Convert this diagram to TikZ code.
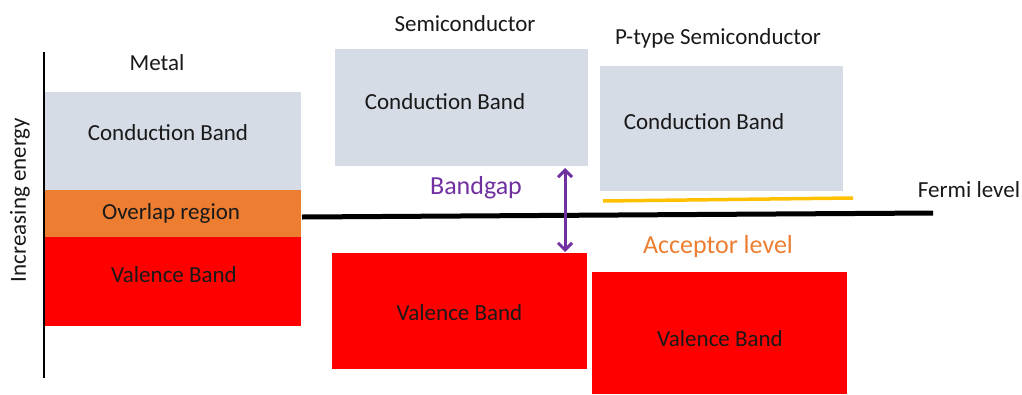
\documentclass[tikz,border=0pt]{standalone}
\usepackage{fontspec}
\setmainfont{Carlito}
\usetikzlibrary{arrows.meta}
\definecolor{cbgray}{HTML}{D6DCE5}
\definecolor{ovorange}{HTML}{ED7D31}
\definecolor{vbred}{HTML}{FF0000}
\definecolor{gappurple}{HTML}{7030A0}
\definecolor{acyellow}{HTML}{FFC000}
\tikzset{
  bandbox/.style={rectangle, inner sep=0pt, outer sep=0pt, draw=none},
  cb/.style={bandbox, fill=cbgray},
  vb/.style={bandbox, fill=vbred},
  ov/.style={bandbox, fill=ovorange},
  lbl/.style={inner sep=0pt, font=\fontsize{23}{27}\selectfont, text=black!90},
  biglbl/.style={inner sep=0pt, font=\fontsize{26}{30}\selectfont},
}
\begin{document}
\begin{tikzpicture}[x=1pt,y=-1pt]
\useasboundingbox (0,0) rectangle (1022,394);
% axis
\coordinate (axt) at (44,52);
\coordinate (axb) at (44,378);
\draw[line width=1.5pt] (axt) -- (axb);
\node[lbl, rotate=90] (ylab) at (20,200) {Increasing energy};
% Metal
\node[lbl] (metal) at (157,63) {Metal};
\node[cb, minimum width=256, minimum height=98] (mcb) at (173,141) {};
\node[ov, minimum width=256, minimum height=47] (mov) at (173,213.5) {};
\node[vb, minimum width=256, minimum height=89] (mvb) at (173,281.5) {};
\node[lbl] (mcbt) at (168,133) {Conduction Band};
\node[lbl] (movt) at (171,213) {Overlap region};
\node[lbl] (mvbt) at (174,275) {Valence Band};
% Semiconductor
\node[lbl] (semi) at (465,24) {Semiconductor};
\node[cb, minimum width=253, minimum height=117] (scb) at (461.5,107.5) {};
\node[vb, minimum width=255, minimum height=116] (svb) at (459.5,311) {};
\node[lbl] (scbt) at (445,102) {Conduction Band};
\node[lbl] (svbt) at (459.5,313) {Valence Band};
% P-type
\node[lbl] (ptype) at (718,38) {P-type Semiconductor};
\node[cb, minimum width=243, minimum height=125] (pcb) at (721.5,128.5) {};
\node[vb, minimum width=255, minimum height=122] (pvb) at (719.5,333) {};
\node[lbl] (pcbt) at (704,122) {Conduction Band};
\node[lbl] (pvbt) at (720,339) {Valence Band};
% Fermi level
\coordinate (fl) at (302,217);
\coordinate (fr) at (933,213);
\draw[line width=5pt, black] (fl) -- (fr);
\node[lbl] (fermi) at (969,190) {Fermi level};
% acceptor level
\coordinate (al) at (603,201);
\coordinate (ar) at (853,198);
\draw[line width=3.5pt, acyellow] (al) -- (ar);
\node[biglbl, text=ovorange] (acc) at (718,247) {Acceptor level};
% bandgap
\coordinate (gt) at (565,168);
\coordinate (gb) at (565,252);
\draw[line width=3pt, gappurple, {Straight Barb[length=7pt,width=14pt]}-{Straight Barb[length=7pt,width=14pt]}] (gt) -- (gb);
\node[biglbl, text=gappurple] (gap) at (476,188) {Bandgap};
\end{tikzpicture}
\end{document}
